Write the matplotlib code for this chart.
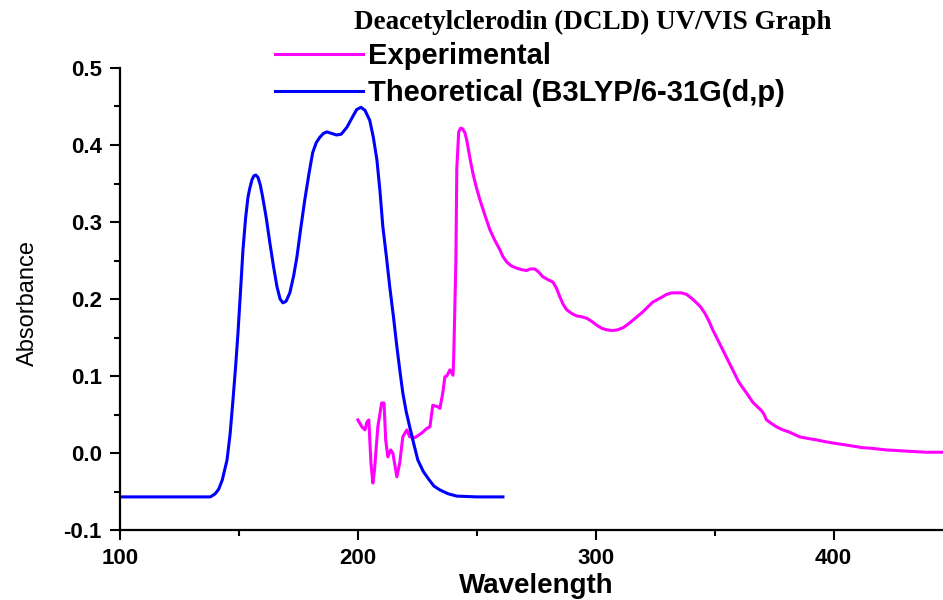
import matplotlib
matplotlib.use("Agg")
import matplotlib.pyplot as plt
from matplotlib.ticker import MultipleLocator, FormatStrFormatter

plt.rcParams['font.family'] = ['Liberation Sans', 'DejaVu Sans']
plt.rcParams['axes.unicode_minus'] = False

# Experimental spectrum (wavelength, absorbance)
exp_wl = [200, 201.7, 203, 203.8, 204.6, 205.5, 206.3, 207, 208.4, 210, 211,
          211.7, 212.6, 213.8, 214.7, 216.4, 217.6, 218.9, 220.6, 221.8, 224,
          226.9, 229, 230.3, 231.5, 233.6, 234.5, 235.7, 236.6, 237.4, 238.7,
          240, 240.3, 241.2, 241.6, 242.4, 243.2, 244, 245, 245.8, 247, 248.3,
          249.8, 251.3, 253.4, 255.5, 257.6, 259.7, 261, 262.6, 264.5, 266.8,
          269, 271, 272.5, 274.4, 276, 277.7, 280, 282, 283.5, 284.9, 286.3,
          287.8, 290, 292, 294, 296.2, 298.3, 300.4, 302.5, 304.6, 307, 309.2,
          311.7, 314.3, 317, 319.7, 322, 324, 327, 329.8, 332, 334, 336, 338.2,
          340.3, 342.4, 344, 345.8, 347.5, 349.2, 351.3, 353.4, 355.5, 357.6,
          360, 361.5, 363.4, 366, 368, 369.7, 370.8, 371.8, 374, 376, 378.7,
          381.5, 385.7, 389, 392.9, 396, 399.6, 404, 408, 412, 416.4, 422,
          427.7, 433, 439, 446]
exp_abs = [0.043, 0.034, 0.030, 0.040, 0.043, -0.013, -0.039, -0.022, 0.034,
           0.065, 0.065, 0.017, -0.005, 0.004, 0.0, -0.031, -0.013, 0.021,
           0.030, 0.021, 0.020, 0.026, 0.032, 0.034, 0.062, 0.060, 0.058,
           0.078, 0.099, 0.100, 0.108, 0.101, 0.125, 0.247, 0.370, 0.417,
           0.422, 0.421, 0.416, 0.406, 0.385, 0.364, 0.345, 0.329, 0.309,
           0.290, 0.276, 0.264, 0.255, 0.248, 0.243, 0.240, 0.238, 0.237,
           0.239, 0.239, 0.235, 0.229, 0.225, 0.222, 0.214, 0.203, 0.193,
           0.186, 0.181, 0.178, 0.177, 0.175, 0.171, 0.166, 0.162, 0.160,
           0.159, 0.160, 0.163, 0.169, 0.176, 0.183, 0.190, 0.196, 0.201,
           0.206, 0.208, 0.208, 0.208, 0.206, 0.201, 0.195, 0.190, 0.182,
           0.172, 0.160, 0.147, 0.134, 0.121, 0.108, 0.093, 0.086, 0.078,
           0.066, 0.060, 0.055, 0.050, 0.043, 0.038, 0.034, 0.030, 0.027,
           0.021, 0.019, 0.017, 0.015, 0.013, 0.011, 0.009, 0.007, 0.006,
           0.004, 0.003, 0.002, 0.001, 0.001]

# Theoretical spectrum (B3LYP/6-31G(d,p))
th_wl = [100, 138, 140, 141.5, 143, 144, 145, 146.3, 147.5, 148.6, 149.6,
         150.7, 151.7, 152.8, 153.8, 154.5, 155.5, 156.3, 157.1, 158, 159,
         160, 161.5, 163, 164.5, 166, 167.3, 168.5, 169.8, 171.4, 173, 174.4,
         176, 177.7, 179.4, 181, 182.5, 184, 185.5, 187, 189, 191, 193, 195.4,
         197.5, 199.5, 201.3, 203, 205, 206.5, 208, 209.3, 210.5, 212, 213.4,
         215, 216.4, 217.7, 218.9, 220.3, 221.8, 223.5, 225.2, 227.5, 230,
         232, 234.5, 238, 241.6, 250, 261]
th_abs = [-0.057, -0.057, -0.053, -0.047, -0.035, -0.022, -0.009, 0.025,
          0.069, 0.112, 0.156, 0.212, 0.264, 0.305, 0.332, 0.343, 0.355,
          0.360, 0.361, 0.358, 0.348, 0.332, 0.305, 0.273, 0.243, 0.216,
          0.200, 0.195, 0.197, 0.208, 0.230, 0.255, 0.292, 0.329, 0.362,
          0.390, 0.403, 0.410, 0.415, 0.417, 0.415, 0.413, 0.414, 0.423,
          0.435, 0.446, 0.449, 0.445, 0.432, 0.410, 0.381, 0.340, 0.294,
          0.255, 0.216, 0.176, 0.138, 0.106, 0.078, 0.054, 0.034, 0.012,
          -0.009, -0.024, -0.035, -0.043, -0.048, -0.053, -0.056, -0.057,
          -0.057]

fig = plt.figure(figsize=(9.43, 6.0), dpi=100)
W, H = 943, 600
ax = fig.add_axes([120 / W, 1 - 530 / H, 1 - 120 / W, (530 - 68) / H])

ax.plot(exp_wl, exp_abs, color='#FF00FF', lw=2.2, label='Experimental')
ax.plot(th_wl, th_abs, color='#0000FF', lw=2.2,
        label='Theoretical (B3LYP/6-31G(d,p)')

ax.set_xlim(100, 446)
ax.set_ylim(-0.1, 0.5)
ax.xaxis.set_major_locator(MultipleLocator(100))
ax.xaxis.set_minor_locator(MultipleLocator(50))
ax.yaxis.set_major_locator(MultipleLocator(0.1))
ax.yaxis.set_minor_locator(MultipleLocator(0.05))
ax.yaxis.set_major_formatter(FormatStrFormatter('%.1f'))

for s in ['top', 'right']:
    ax.spines[s].set_visible(False)
for s in ['left', 'bottom']:
    ax.spines[s].set_linewidth(1.6)

ax.tick_params(which='major', direction='out', length=7, width=1.5, pad=6)
ax.tick_params(which='minor', direction='out', length=4.5, width=1.5)
for lab in ax.get_xticklabels() + ax.get_yticklabels():
    lab.set_fontweight('bold')
    lab.set_fontsize(16)

fig.text(593 / W, 1 - 22 / H, 'Deacetylclerodin (DCLD) UV/VIS Graph',
         family='Liberation Serif', fontweight='bold', fontsize=19.5,
         ha='center', va='center')
fig.text(536 / W, 1 / H, 'Wavelength', fontweight='bold', fontsize=20,
         ha='center', va='bottom')
fig.text(28 / W, 1 - 303 / H, 'Absorbance', fontsize=17, rotation=90,
         ha='center', va='center')

ax.legend(loc='upper left', bbox_to_anchor=(275 / W, 1 - 42 / H),
          bbox_transform=fig.transFigure, frameon=False, borderpad=0,
          borderaxespad=0, handlelength=3.0, handletextpad=0.2,
          labelspacing=0.3, prop={'size': 21, 'weight': 'bold'})

fig.savefig('out.png', dpi=100)
